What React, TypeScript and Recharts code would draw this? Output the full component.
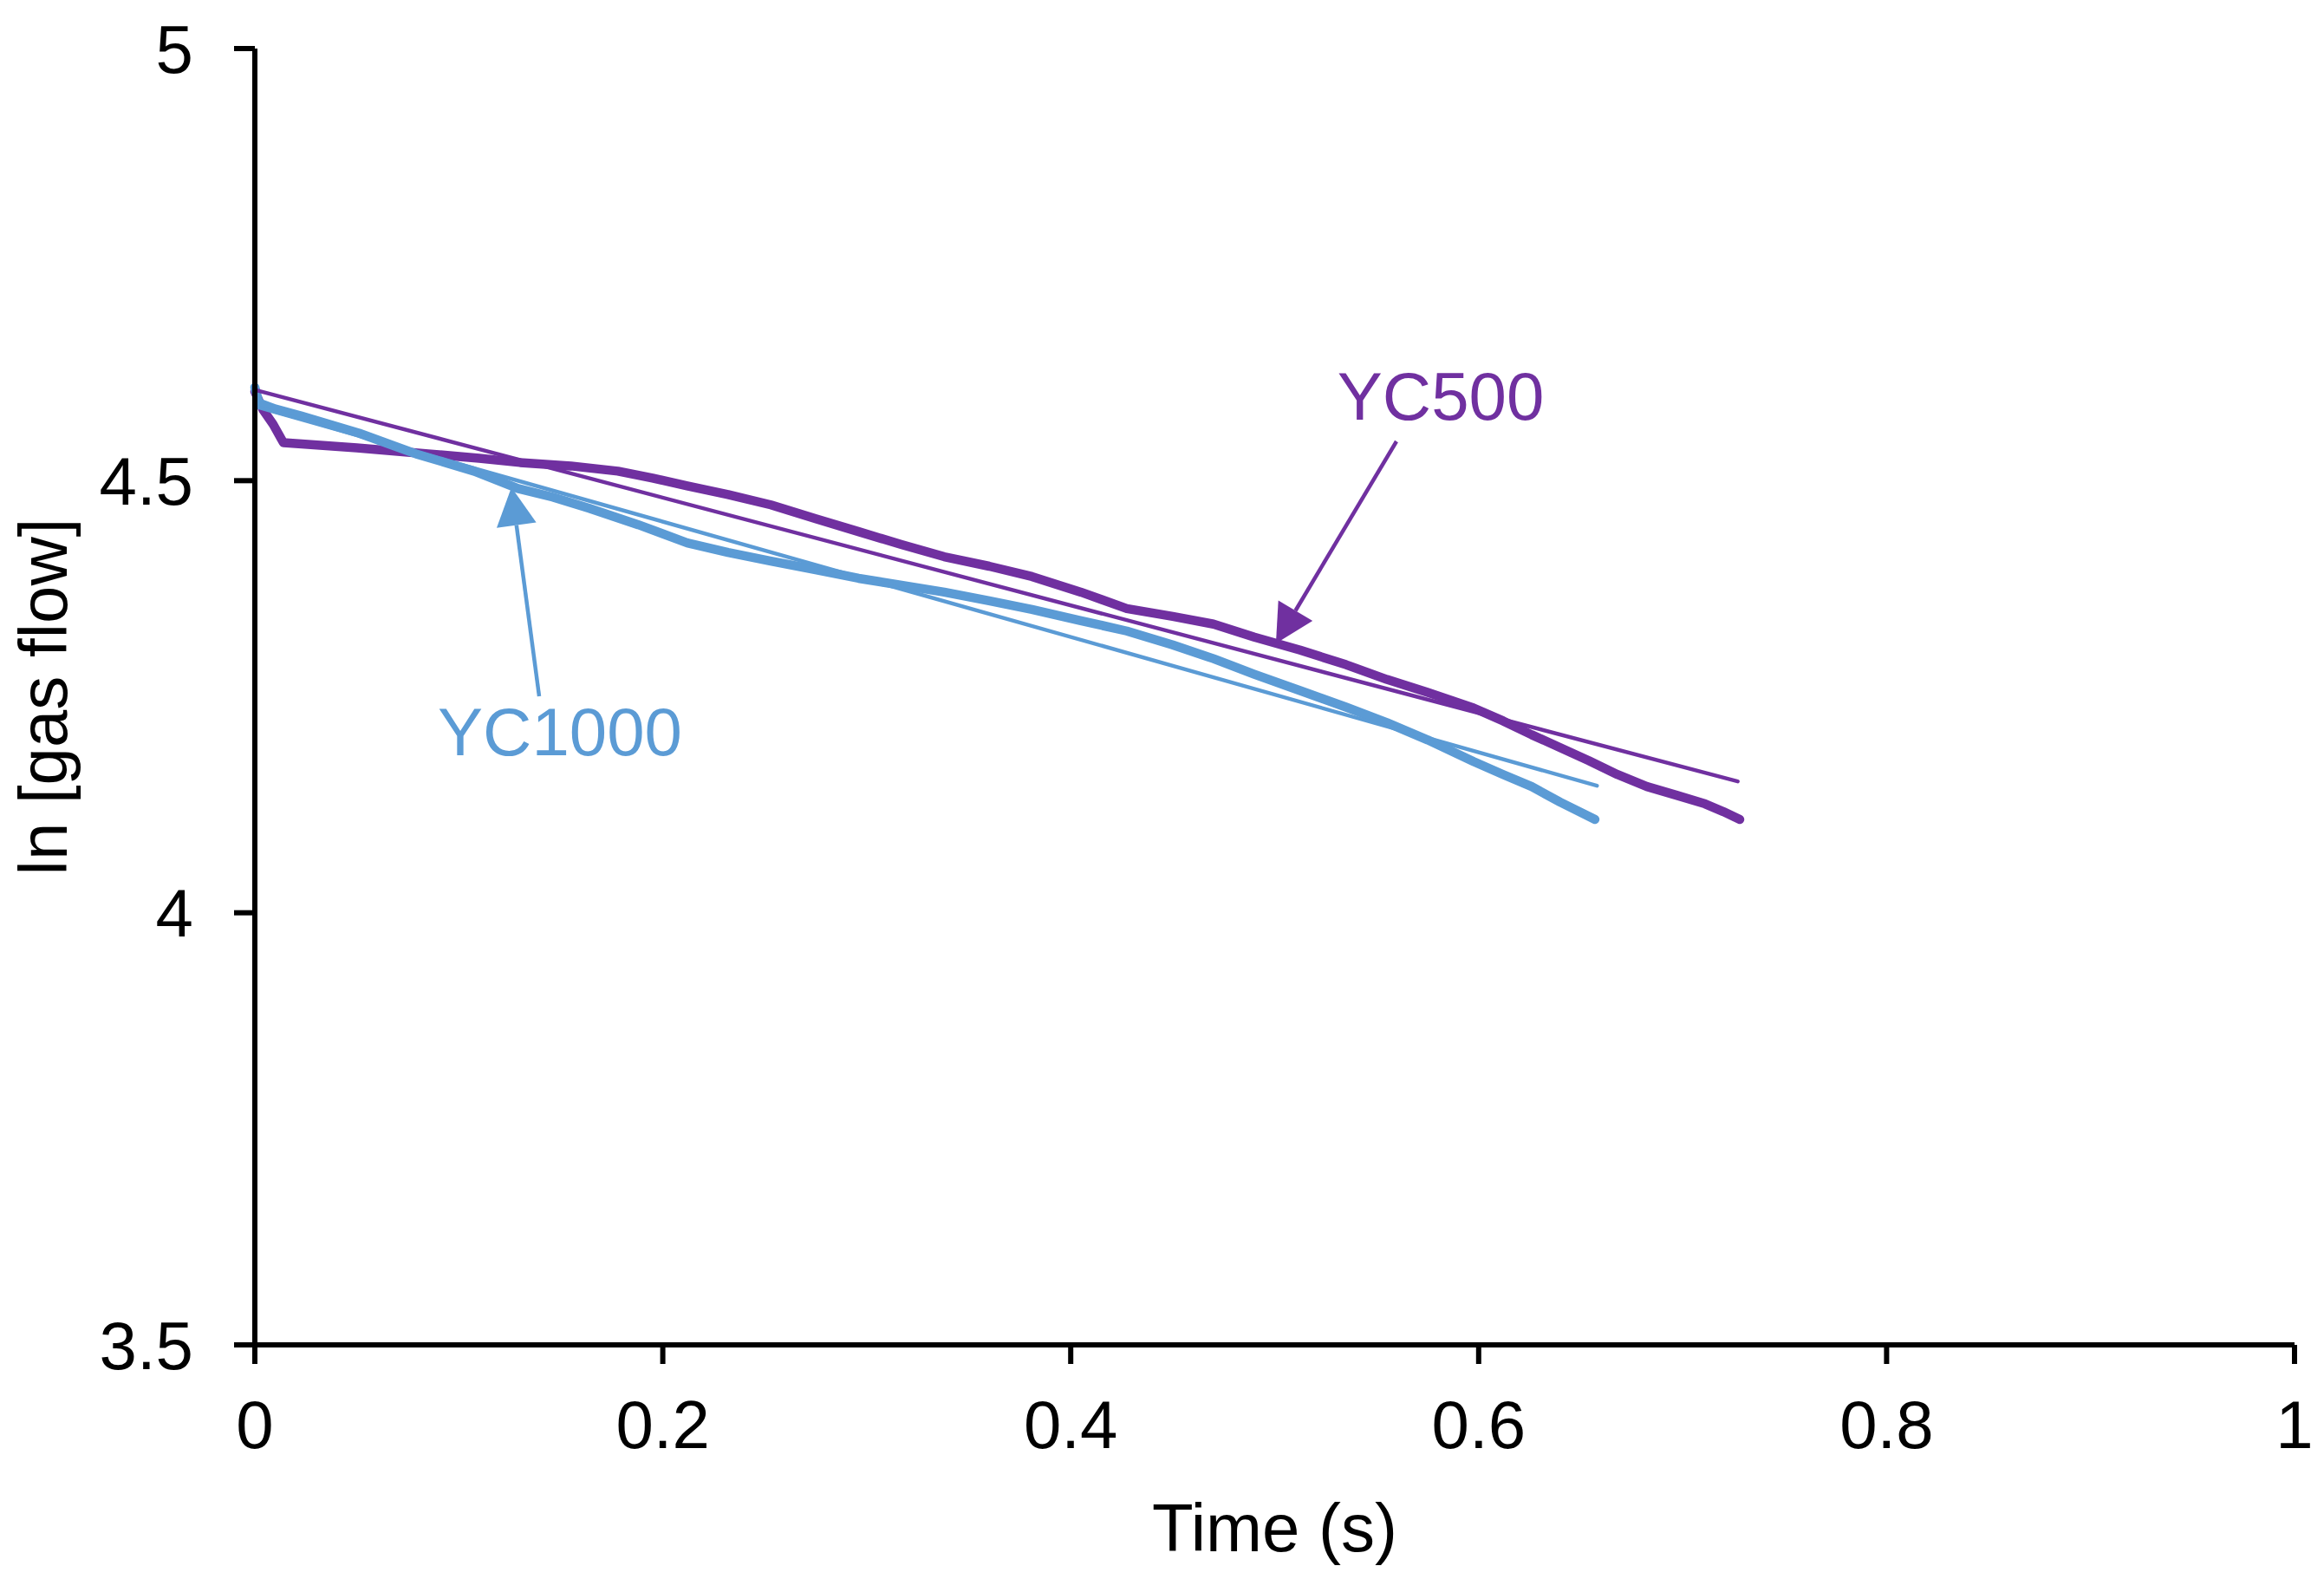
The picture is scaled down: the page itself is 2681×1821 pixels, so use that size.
import React from "react";
import {
  LineChart,
  Line,
  XAxis,
  YAxis,
  Label,
  ReferenceLine,
  ReferenceDot
} from "recharts";

const PURPLE = "#7030A0";
const BLUE = "#5B9BD5";
const FONT = "Arial, 'Liberation Sans', Helvetica, sans-serif";

// time (s) and ln[gas flow]
const yc500Time = [
  0, 0.004, 0.009, 0.014, 0.05, 0.085, 0.11, 0.13, 0.155, 0.178, 0.195, 0.212, 0.232, 0.253,
  0.275, 0.296, 0.317, 0.338, 0.36, 0.381, 0.405, 0.4275, 0.45, 0.47, 0.49, 0.5125, 0.535,
  0.555, 0.575, 0.5975, 0.612, 0.626, 0.64, 0.654, 0.668, 0.6825, 0.697, 0.711, 0.72, 0.728
];
const yc500Flow = [
  4.603, 4.582, 4.565, 4.544, 4.538, 4.531, 4.526, 4.521, 4.517, 4.511, 4.503, 4.494, 4.484,
  4.472, 4.456, 4.441, 4.426, 4.412, 4.401, 4.389, 4.371, 4.352, 4.343, 4.334, 4.319, 4.304,
  4.287, 4.27, 4.255, 4.237, 4.222, 4.206, 4.191, 4.176, 4.16, 4.146, 4.136, 4.126, 4.117, 4.108
];

const yc1000Time = [
  0, 0.002, 0.01, 0.0225, 0.051, 0.079, 0.1075, 0.129, 0.146, 0.164, 0.188, 0.212, 0.232,
  0.253, 0.275, 0.296, 0.317, 0.338, 0.36, 0.381, 0.405, 0.4275, 0.45, 0.47, 0.49, 0.5125,
  0.535, 0.555, 0.575, 0.5975, 0.612, 0.626, 0.64, 0.657
];
const yc1000Flow = [
  4.608, 4.59, 4.583, 4.575, 4.555, 4.531, 4.511, 4.491, 4.481, 4.468, 4.449, 4.428, 4.417,
  4.407, 4.397, 4.387, 4.379, 4.371, 4.361, 4.351, 4.338, 4.326, 4.31, 4.294, 4.276, 4.257,
  4.238, 4.22, 4.2, 4.175, 4.16, 4.146, 4.128, 4.108
];

// linear fits (end points)
const yc500FitTime = [0, 0.727];
const yc500FitFlow = [4.605, 4.152];
const yc1000FitTime = [0, 0.658];
const yc1000FitFlow = [4.586, 4.147];

const xTicks = [0, 0.2, 0.4, 0.6, 0.8, 1];
const yTicks = [3.5, 4, 4.5, 5];

// annotations: [label x, label baseline y], arrow [from x, from y, to x, to y]
const yc500Label = [0.5814, 4.5706];
const yc500Arrow = [0.5597, 4.5455, 0.5006, 4.3117];
const yc1000Label = [0.1496, 4.1823];
const yc1000Arrow = [0.1394, 4.2505, 0.1258, 4.4923];

const toPoints = (xs: number[], ys: number[]) => xs.map((x, i) => ({ x, y: ys[i] }));

const yc500 = toPoints(yc500Time, yc500Flow);
const yc1000 = toPoints(yc1000Time, yc1000Flow);
const yc500Fit = toPoints(yc500FitTime, yc500FitFlow);
const yc1000Fit = toPoints(yc1000FitTime, yc1000FitFlow);

function arrowShape(color: string) {
  return (props: any) => {
    const { x1, y1, x2, y2 } = props;
    const dx = x2 - x1;
    const dy = y2 - y1;
    const len = Math.sqrt(dx * dx + dy * dy) || 1;
    const ux = dx / len;
    const uy = dy / len;
    const headLen = 44;
    const headHalf = 23;
    const bx = x2 - ux * headLen;
    const by = y2 - uy * headLen;
    const pts = `${x2},${y2} ${bx - uy * headHalf},${by + ux * headHalf} ${bx + uy * headHalf},${by - ux * headHalf}`;
    return (
      <g>
        <line x1={x1} y1={y1} x2={bx} y2={by} stroke={color} strokeWidth={4.5} />
        <polygon points={pts} fill={color} />
      </g>
    );
  };
}

function textShape(text: string, color: string) {
  return (props: any) => (
    <text
      x={props.cx}
      y={props.cy}
      textAnchor="middle"
      fill={color}
      fontSize={78}
      fontFamily={FONT}
    >
      {text}
    </text>
  );
}

export default function App() {
  return (
    <div style={{ position: "absolute", left: 0, top: 0, background: "#fff" }}>
      <LineChart
        width={2681}
        height={1821}
        margin={{ top: 56, right: 34, bottom: 0, left: 0 }}
      >
        <XAxis
          type="number"
          dataKey="x"
          domain={[0, 1]}
          ticks={xTicks}
          height={270}
          axisLine={{ stroke: "#000", strokeWidth: 6 }}
          tickLine={{ stroke: "#000", strokeWidth: 6 }}
          tickSize={22}
          tickMargin={42}
          tick={{ fill: "#000", fontSize: 78, fontFamily: FONT }}
          interval={0}
        >
          <Label
            value="Time (s)"
            position="insideBottom"
            offset={32}
            style={{ fill: "#000", fontSize: 78, fontFamily: FONT }}
          />
        </XAxis>
        <YAxis
          type="number"
          domain={[3.5, 5]}
          ticks={yTicks}
          width={294}
          axisLine={{ stroke: "#000", strokeWidth: 6 }}
          tickLine={{ stroke: "#000", strokeWidth: 6 }}
          tickSize={24}
          tickMargin={47}
          tick={{ fill: "#000", fontSize: 78, fontFamily: FONT }}
          interval={0}
        >
          <Label
            value="ln [gas flow]"
            angle={-90}
            position="insideLeft"
            offset={49}
            style={{ fill: "#000", fontSize: 78, fontFamily: FONT, textAnchor: "middle" }}
          />
        </YAxis>

        <Line
          data={yc500}
          dataKey="y"
          type="linear"
          stroke={PURPLE}
          strokeWidth={10.5}
          strokeLinecap="round"
          strokeLinejoin="round"
          dot={false}
          activeDot={false}
          isAnimationActive={false}
        />
        <Line
          data={yc1000}
          dataKey="y"
          type="linear"
          stroke={BLUE}
          strokeWidth={10.5}
          strokeLinecap="round"
          strokeLinejoin="round"
          dot={false}
          activeDot={false}
          isAnimationActive={false}
        />
        <Line
          data={yc500Fit}
          dataKey="y"
          type="linear"
          stroke={PURPLE}
          strokeWidth={4.5}
          strokeLinecap="round"
          dot={false}
          activeDot={false}
          isAnimationActive={false}
        />
        <Line
          data={yc1000Fit}
          dataKey="y"
          type="linear"
          stroke={BLUE}
          strokeWidth={4.5}
          strokeLinecap="round"
          dot={false}
          activeDot={false}
          isAnimationActive={false}
        />

        <ReferenceLine
          segment={[
            { x: yc500Arrow[0], y: yc500Arrow[1] },
            { x: yc500Arrow[2], y: yc500Arrow[3] }
          ]}
          shape={arrowShape(PURPLE)}
        />
        <ReferenceLine
          segment={[
            { x: yc1000Arrow[0], y: yc1000Arrow[1] },
            { x: yc1000Arrow[2], y: yc1000Arrow[3] }
          ]}
          shape={arrowShape(BLUE)}
        />
        <ReferenceDot x={yc500Label[0]} y={yc500Label[1]} shape={textShape("YC500", PURPLE)} />
        <ReferenceDot x={yc1000Label[0]} y={yc1000Label[1]} shape={textShape("YC1000", BLUE)} />
      </LineChart>
    </div>
  );
}
